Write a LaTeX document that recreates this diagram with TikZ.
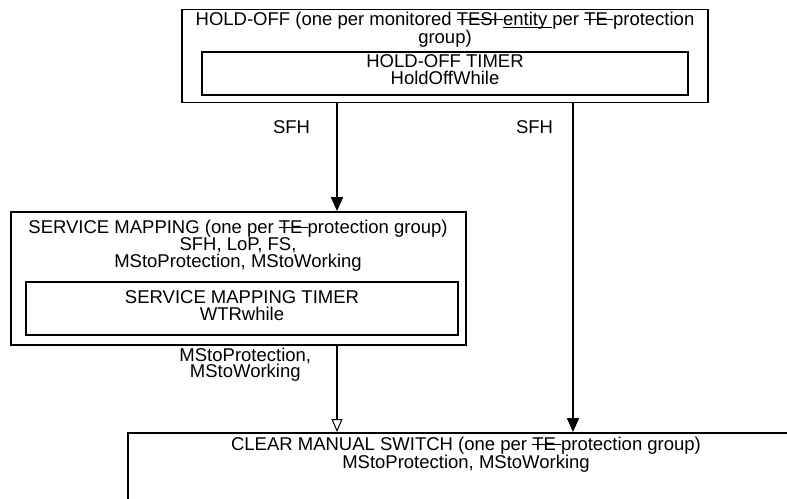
\documentclass[tikz,border=0pt]{standalone}
\usepackage{fontspec}
\setmainfont{Liberation Sans}
\usetikzlibrary{arrows.meta,positioning}

\newcommand\strk[1]{\setbox0\hbox{#1}\rlap{\rule[5.4pt]{\wd0}{1pt}}\box0}
\newcommand\undl[1]{\setbox0\hbox{#1}\rlap{\rule[-2.6pt]{\wd0}{1pt}}\box0}

\tikzset{
  box/.style={draw, line width=1.8pt, inner sep=0pt},
  txt/.style={align=center, inner sep=0pt},
  flow/.style={line width=1.8pt, -{Triangle[width=12pt,length=14pt]}},
  open flow/.style={line width=1.8pt, -{Triangle[open,width=11pt,length=13pt,line width=1pt]}}
}

\begin{document}
\begin{tikzpicture}[x=1pt, y=-1pt, font=\fontsize{18.5}{16.5}\selectfont]
  \clip (0,0) rectangle (787,498);

  \node[box, minimum width=526pt, minimum height=93pt] (hold off) at (445,56) {};
  \node[txt, anchor=north] (hold title) at (445,11.5)
  {HOLD-OFF (one per monitored \strk{TESI\ }\undl{entity\ }per \strk{TE\ }protection\\group)};
  \node[box, minimum width=486pt, minimum height=43pt] (hold timer) at (445,73.5) {};
  \node[txt, anchor=north] (hold text) at (445,54.5)
  {HOLD-OFF TIMER\\HoldOffWhile};

  \node[box, minimum width=455pt, minimum height=133pt] (mapping) at (238.5,278.5) {};
  \node[txt, anchor=north] (mapping title) at (238,219.5)
  {SERVICE MAPPING (one per \strk{TE\ }protection group)\\SFH, LoP, FS,\\MStoProtection, MStoWorking};
  \node[box, minimum width=432pt, minimum height=53pt] (mapping timer) at (242,308.5) {};
  \node[txt, anchor=north] (mapping text) at (242,290.5)
  {SERVICE MAPPING TIMER\\WTRwhile};

  \node[box, minimum width=690pt, minimum height=90pt, anchor=north west] (clear) at (127,432) {};
  \node[txt, anchor=north] (clear title) at (466,436.5)
  {CLEAR MANUAL SWITCH (one per \strk{TE\ }protection group)\\MStoProtection, MStoWorking};

  \coordinate (left col) at (337,0);
  \coordinate (right col) at (573,0);

  \draw[flow] (left col |- hold off.south) -- node[txt, pos=0.22, left=26pt] {SFH}
  (left col |- mapping.north);
  \draw[flow] (right col |- hold off.south) -- node[txt, pos=0.073, left=19pt] {SFH}
  (right col |- clear.north);
  \draw[open flow] (left col |- mapping.south) -- node[txt, pos=0.22, left=25pt] {MStoProtection,\\MStoWorking}
  (left col |- clear.north);
\end{tikzpicture}
\end{document}
